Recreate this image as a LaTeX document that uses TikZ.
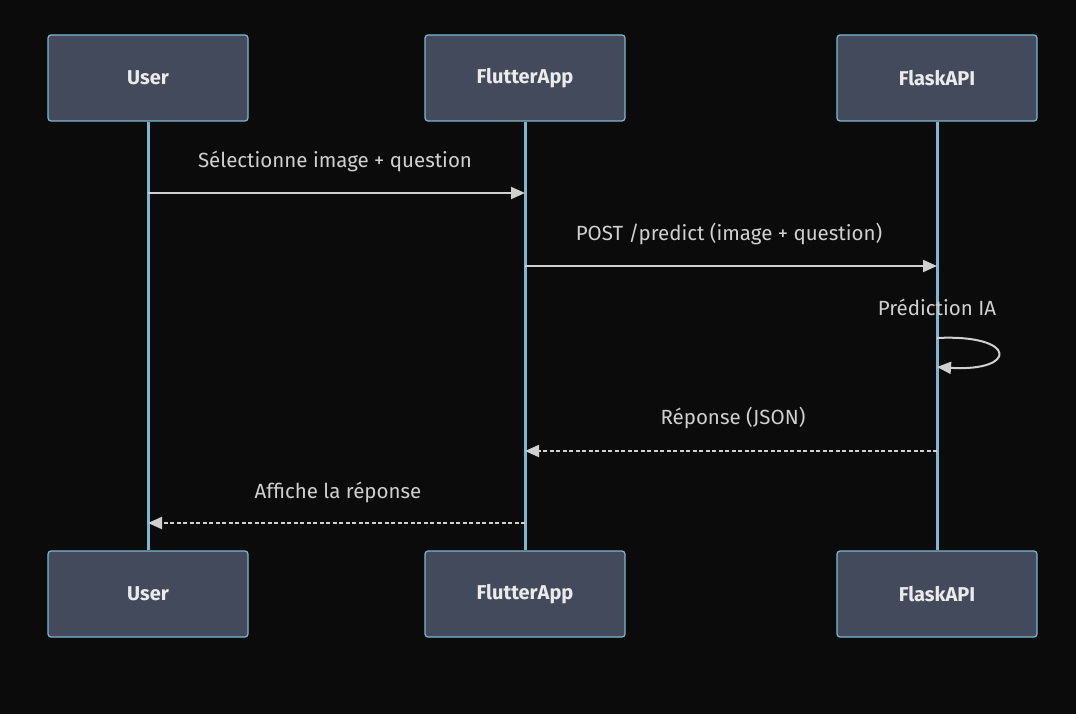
\documentclass[tikz,border=0pt]{standalone}
\usepackage{fontspec}
\setmainfont{Fira Sans}
\usetikzlibrary{arrows.meta}

\definecolor{bgcol}{HTML}{0B0B0B}
\definecolor{boxfill}{HTML}{434A5C}
\definecolor{lifeblue}{HTML}{7DB7D2}
\definecolor{msgcol}{HTML}{D0D0D0}

\tikzset{
	actor/.style={draw=lifeblue,fill=boxfill,line width=1.2pt,rounded corners=3pt,
		minimum width=200pt,minimum height=86pt,text=white!92!black,
		font=\fontsize{20}{24}\selectfont\bfseries},
	lifeline/.style={lifeblue,line width=3pt},
	msg/.style={msgcol,line width=2pt,-{Triangle[length=14pt,width=12pt]}},
	reply/.style={msg,dash pattern=on 4pt off 2.5pt},
	msglabel/.style={text=msgcol,font=\fontsize{20.5}{24}\selectfont},
}

\begin{document}
\begin{tikzpicture}[x=1pt,y=-1pt]
	% background and frame
	\fill [bgcol] (0,0) rectangle (1076,714);
	\useasboundingbox (0,0) rectangle (1076,714);

	% Actors, top and bottom:
	\node [actor] (userTop)    at (148,78)  {User};
	\node [actor] (flutterTop) at (525,78)  {FlutterApp};
	\node [actor] (flaskTop)   at (937,78)  {FlaskAPI};
	\node [actor] (userBot)    at (148,594) {User};
	\node [actor] (flutterBot) at (525,594) {FlutterApp};
	\node [actor] (flaskBot)   at (937,594) {FlaskAPI};

	% Lifelines:
	\draw [lifeline] (userTop) -- (userBot);
	\draw [lifeline] (flutterTop) -- (flutterBot);
	\draw [lifeline] (flaskTop) -- (flaskBot);

	% Points where the messages leave and reach the lifelines:
	\coordinate (selUser)     at (148,193);
	\coordinate (selFlutter)  at (525,193);
	\coordinate (postFlutter) at (525,266);
	\coordinate (postFlask)   at (937,266);
	\coordinate (loopStart)   at (937,338);
	\coordinate (loopEnd)     at (937,367);
	\coordinate (repFlask)    at (937,451);
	\coordinate (repFlutter)  at (525,451);
	\coordinate (showFlutter) at (525,523);
	\coordinate (showUser)    at (148,523);

	% Messages:
	\draw [msg] (selUser) -- (selFlutter);
	\node [msglabel] (selLabel) at (335,161) {Sélectionne image + question};

	\draw [msg] (postFlutter) -- (postFlask);
	\node [msglabel] (postLabel) at (729,234) {POST /predict (image + question)};

	% Self call on the FlaskAPI lifeline
	\draw [msg] (loopStart) .. controls (1018,334) and (1018,372) .. (loopEnd);
	\node [msglabel] (predLabel) at (937,307) {Prédiction IA};

	\draw [reply] (repFlask) -- (repFlutter);
	\node [msglabel] (repLabel) at (733,418) {Réponse (JSON)};

	\draw [reply] (showFlutter) -- (showUser);
	\node [msglabel] (showLabel) at (338,492) {Affiche la réponse};
\end{tikzpicture}
\end{document}
